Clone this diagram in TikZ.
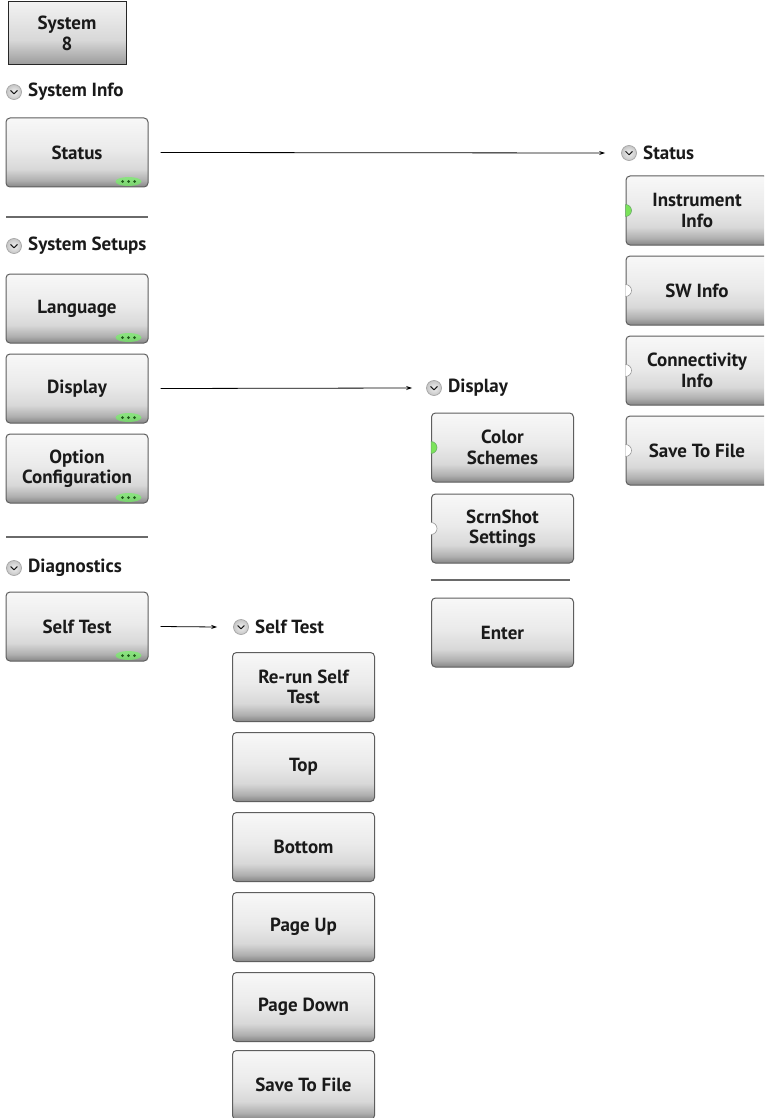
\documentclass[tikz,border=0pt]{standalone}
\usepackage{fontspec}
\setmainfont{PT Sans}
\usetikzlibrary{arrows.meta}
\definecolor{bA}{HTML}{868686}
\definecolor{bB}{HTML}{B0B0B0}
\definecolor{bC}{HTML}{D8D8D8}
\definecolor{bD}{HTML}{EAEAEA}
\definecolor{bE}{HTML}{F8F8F8}
\definecolor{sA}{HTML}{9A9A9A}
\definecolor{sE}{HTML}{F2F2F2}
\definecolor{btnborder}{HTML}{5E5E5E}
\definecolor{txt}{HTML}{1A1A1A}
\definecolor{sepcol}{HTML}{6A6A6A}
\definecolor{glow}{HTML}{6CFF5A}
\definecolor{dotc}{HTML}{1F5A1A}
\definecolor{indon}{HTML}{7BE35A}
\pgfdeclareverticalshading{btnshade}{100bp}{color(0bp)=(bA); color(25bp)=(bA); color(30bp)=(bB); color(38bp)=(bC); color(52bp)=(bD); color(75bp)=(bE); color(100bp)=(bE)}
\pgfdeclareverticalshading{sysshade}{100bp}{color(0bp)=(sA); color(25bp)=(sA); color(45bp)=(bC); color(75bp)=(sE); color(100bp)=(sE)}
\newcommand\mybtn[4]{\node[btn] (#1) at (#2,#3) {}; \node[btntext] (#1t) at (#1.center) {#4};}
\newcommand\moredots[1]{%
  \fill[glow, opacity=0.6] ([xshift=-20pt,yshift=6pt]#1.south east) ellipse[x radius=13pt, y radius=4.5pt];
  \foreach \dx in {-26,-20,-14}{\fill[dotc] ([xshift=\dx pt,yshift=6pt]#1.south east) circle[radius=1.5pt];}}
\newcommand\indon[1]{\fill[indon, draw=green!40!black!60, line width=0.5pt] ([yshift=6pt]#1.west) arc[start angle=90,end angle=-90,radius=6pt] -- cycle;}
\newcommand\indoff[1]{\fill[white, draw=gray!80, line width=0.6pt] ([yshift=6pt]#1.west) arc[start angle=90,end angle=-90,radius=6pt];}
\tikzset{
  btn/.style={draw=btnborder, line width=1pt, rounded corners=4pt, shading=btnshade, minimum width=142pt, minimum height=69pt, inner sep=0pt},
  btntext/.style={align=center, font=\bfseries\fontsize{19}{20.5}\selectfont, text=txt, inner sep=0pt},
  hicon/.style={circle, draw=gray!70, line width=0.7pt, inner color=gray!12, outer color=gray!45, minimum size=15pt, inner sep=0pt},
  htext/.style={anchor=west, font=\bfseries\fontsize{19}{20}\selectfont, text=txt, inner sep=0pt},
  sep/.style={draw=sepcol, line width=2pt},
  arr/.style={draw=black, line width=0.8pt, -{Stealth[length=6pt,width=4pt]}}
}
\newcommand\header[5]{\node[hicon] (#1) at (#2,#3) {};
  \draw[gray!20!black, line width=1pt, line cap=round, line join=round] ([shift={(-3.2pt,1.4pt)}]#1.center) -- ([shift={(0pt,-1.8pt)}]#1.center) -- ([shift={(3.2pt,1.4pt)}]#1.center);
  \node[htext] (#1t) at (#4,#3) {#5};}
\begin{document}
\begin{tikzpicture}[x=1pt,y=-1pt]
\useasboundingbox (0,0) rectangle (764,1118);
\clip (0,0) rectangle (764,1118);
\fill[white] (0,0) rectangle (764,1118);
% System 8
\node[draw=black!85, line width=1pt, shading=sysshade, minimum width=118pt, minimum height=63pt, inner sep=0pt] (sys) at (67,33.5) {};
\node[btntext] (syst) at (sys.center) {System\\8};
% left column
\header{hsi}{14}{92}{28}{System Info}
\mybtn{status}{77}{152.5}{Status}
\moredots{status}
\coordinate (s1a) at (6,217); \coordinate (s1b) at (148,217);
\draw[sep] (s1a) -- (s1b);
\header{hss}{14}{246}{28}{System Setups}
\mybtn{lang}{77}{308.5}{Language}
\moredots{lang}
\mybtn{disp}{77}{388.5}{Display}
\moredots{disp}
\mybtn{opt}{77}{468.5}{Option\\Configuration}
\moredots{opt}
\coordinate (s2a) at (6,537); \coordinate (s2b) at (148,537);
\draw[sep] (s2a) -- (s2b);
\header{hdg}{14}{568}{28}{Diagnostics}
\mybtn{self}{77}{626.5}{Self Test}
\moredots{self}
% Status column
\header{hst}{629}{153}{643}{Status}
\mybtn{inst}{697}{210.5}{Instrument\\Info}
\indon{inst}
\mybtn{sw}{697}{290.5}{SW Info}
\indoff{sw}
\mybtn{conn}{697}{370.5}{Connectivity\\Info}
\indoff{conn}
\mybtn{save1}{697}{450.5}{Save To File}
\indoff{save1}
% Display column
\header{hdp}{434}{388}{448}{Display}
\mybtn{color}{502.5}{447.5}{Color\\Schemes}
\indon{color}
\mybtn{scrn}{502.5}{528.5}{ScrnShot\\Settings}
\indoff{scrn}
\coordinate (s3a) at (431,580); \coordinate (s3b) at (570,580);
\draw[sep] (s3a) -- (s3b);
\mybtn{enter}{502.5}{632.5}{Enter}
% Self Test column
\header{hsf}{241}{627}{255}{Self Test}
\mybtn{rerun}{303.5}{687}{Re-run Self\\Test}
\mybtn{top}{303.5}{767}{Top}
\mybtn{bottom}{303.5}{847}{Bottom}
\mybtn{pgup}{303.5}{927}{Page Up}
\mybtn{pgdn}{303.5}{1007}{Page Down}
\mybtn{save2}{303.5}{1085}{Save To File}
% arrows
\draw[arr] ([xshift=12pt]status.east) -- ([xshift=-16pt]hst.west);
\draw[arr] ([xshift=12pt]disp.east) -- ([xshift=-14pt]hdp.west);
\draw[arr] ([xshift=12pt]self.east) -- ([xshift=-16pt]hsf.west);
\end{tikzpicture}
\end{document}
